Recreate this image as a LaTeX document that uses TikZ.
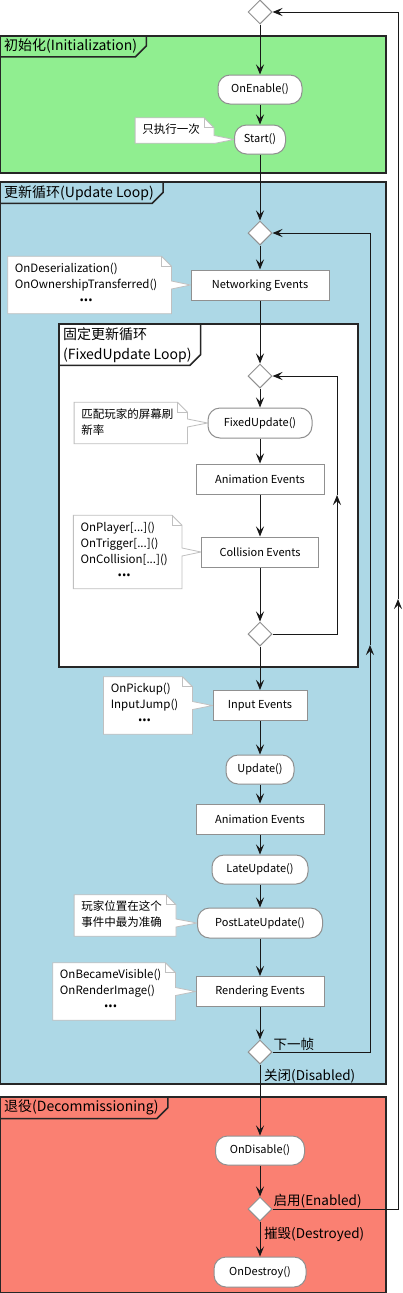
\documentclass[tikz,border=0pt]{standalone}
\usepackage{fontspec}
\setmainfont{Noto Sans CJK SC}
\newfontfamily\dotfont{Noto Sans}
\usepackage{tikz}
\usetikzlibrary{arrows.meta,shapes.geometric,calc,positioning,backgrounds}
\definecolor{colorinit}{HTML}{90EE90}
\definecolor{colorloop}{HTML}{ADD8E6}
\definecolor{colordecom}{HTML}{FA8072}
\definecolor{colorline}{HTML}{181818}
\definecolor{colorbox}{HTML}{909090}
\definecolor{colornote}{HTML}{C0C0C0}
\tikzset{act/.style={draw=colorbox, fill=white, line width=1pt, rounded corners=12pt, minimum height=29pt, inner xsep=0pt, font=\fontsize{11}{13}\selectfont}}
\tikzset{evbox/.style={draw=colorbox, fill=white, line width=1pt, minimum height=30pt, inner xsep=0pt, font=\fontsize{11}{13}\selectfont}}
\tikzset{branch/.style={diamond, draw=colorbox, fill=white, line width=1pt, minimum width=24pt, minimum height=24pt, inner sep=0pt}}
\tikzset{note/.style={inner xsep=0pt, inner ysep=4.5pt, font=\fontsize{11.5}{16}\selectfont}}
\tikzset{noteline/.style={draw=colornote, fill=white, line width=0.8pt}}
\tikzset{region/.style={draw=black!85, line width=1.5pt}}
\tikzset{regiontitle/.style={anchor=north west, inner xsep=4pt, inner ysep=3pt, align=left, font=\fontsize{14}{20}\selectfont}}
\tikzset{guard/.style={inner sep=1pt, font=\fontsize{13.5}{16}\selectfont}}
\tikzset{
  edgeflow/.style={colorline, line width=1pt, -{Stealth[length=10pt,width=8pt,inset=4pt]}},
  edgeline/.style={colorline, line width=1pt}
}
\pgfdeclarelayer{regionlayer}
\pgfdeclarelayer{notelayer}
\pgfsetlayers{regionlayer,notelayer,main}
\newcommand\notetext[1]{\begin{tabular}{@{\hspace{7pt}}l@{\hspace{14pt}}}#1\end{tabular}}
\newcommand\moredots{\multicolumn{1}{@{\hspace{7pt}}c@{\hspace{14pt}}}{\dotfont\bfseries •••}}
\newcommand\notefor[2]{%
  \draw[noteline] (#1.north west) -- ([xshift=-10pt]#1.north east)
    -- ([yshift=-10pt]#1.north east) -- ($(#1.east |- #2.west)+(0,-4)$)
    -- (#2.west) -- ($(#1.east |- #2.west)+(0,4)$)
    -- (#1.south east) -- (#1.south west) -- cycle;
  \draw[noteline, fill=none] ([xshift=-10pt]#1.north east) |- ([yshift=-10pt]#1.north east);
}

\begin{document}
\begin{tikzpicture}[x=1pt, y=-1pt]
\useasboundingbox (0,0) rectangle (403,1293);

% regions
\begin{pgfonlayer}{regionlayer}
\draw[region, fill=colorinit] (0,36) rectangle (386,173);
\node[regiontitle] (tinit) at (0,36) {初始化(Initialization)};
\draw[region] (tinit.south west) -- ([xshift=-6pt]tinit.south east)
  -- ([xshift=5pt,yshift=11pt]tinit.south east) -- ([xshift=5pt]tinit.north east);

\draw[region, fill=colorloop] (0,182) rectangle (386,1084);
\node[regiontitle] (tloop) at (0,182) {更新循环(Update Loop)};
\draw[region] (tloop.south west) -- ([xshift=-6pt]tloop.south east)
  -- ([xshift=5pt,yshift=11pt]tloop.south east) -- ([xshift=5pt]tloop.north east);

\draw[region, fill=white] (59,324) rectangle (358,667);
\node[regiontitle] (tfixed) at (59,324) {固定更新循环\\(FixedUpdate Loop)};
\draw[region] (tfixed.south west) -- ([xshift=-6pt]tfixed.south east)
  -- ([xshift=5pt,yshift=11pt]tfixed.south east) -- ([xshift=5pt]tfixed.north east);

\draw[region, fill=colordecom] (0,1097) rectangle (386,1293);
\node[regiontitle] (tdecom) at (0,1097) {退役(Decommissioning)};
\draw[region] (tdecom.south west) -- ([xshift=-6pt]tdecom.south east)
  -- ([xshift=5pt,yshift=11pt]tdecom.south east) -- ([xshift=5pt]tdecom.north east);
\end{pgfonlayer}

% steps
\node[branch] (dtop) at (260,12) {};
\node[act, minimum width=84pt] (onenable) at (260,89.5) {OnEnable()};
\node[act, minimum width=51pt] (start) at (260,139.5) {Start()};
\node[branch] (dloop) at (260,233) {};
\node[evbox, minimum width=138pt] (netev) at (260,285) {Networking Events};
\node[branch] (dfix) at (260,376) {};
\node[act, minimum width=104pt, minimum height=30pt] (fixedupd) at (260,423) {FixedUpdate()};
\node[evbox, minimum width=128pt] (animfix) at (260,479) {Animation Events};
\node[evbox, minimum width=117pt] (collev) at (260,552) {Collision Events};
\node[branch] (dfixend) at (260,634) {};
\node[evbox, minimum width=94pt] (inputev) at (260,705.5) {Input Events};
\node[act, minimum width=68pt] (update) at (260,769.5) {Update()};
\node[evbox, minimum width=128pt] (animupd) at (260,819) {Animation Events};
\node[act, minimum width=96pt] (lateupd) at (260,869.5) {LateUpdate()};
\node[act, minimum width=125pt, minimum height=30pt] (postlate) at (260,923) {PostLateUpdate()};
\node[evbox, minimum width=128pt] (renderev) at (260,991.5) {Rendering Events};
\node[branch] (dnext) at (260,1052) {};
\node[act, minimum width=89pt] (ondisable) at (260,1150.5) {OnDisable()};
\node[branch] (denable) at (260,1209) {};
\node[act, minimum width=92pt, minimum height=30pt] (ondestroy) at (260,1272) {OnDestroy()};

% notes
\node[note, left=20pt of start, yshift=9pt] (nstart) {\notetext{只执行一次}};
\node[note, left=19pt of netev] (nnet)
{\notetext{OnDeserialization()\\OnOwnershipTransferred()\\\moredots}};
\node[note, left=20pt of fixedupd] (nfixed) {\notetext{匹配玩家的屏幕刷\\新率}};
\node[note, left=19pt of collev] (ncoll)
{\notetext{OnPlayer[...]()\\OnTrigger[...]()\\OnCollision[...]()\\\moredots}};
\node[note, left=20pt of inputev] (ninput) {\notetext{OnPickup()\\InputJump()\\\moredots}};
\node[note, left=21pt of postlate, yshift=7.5pt] (npost) {\notetext{玩家位置在这个\\事件中最为准确}};
\node[note, left=20pt of renderev] (nrender)
{\notetext{OnBecameVisible()\\OnRenderImage()\\\moredots}};

\begin{pgfonlayer}{notelayer}
\notefor{nstart}{start}
\notefor{nnet}{netev}
\notefor{nfixed}{fixedupd}
\notefor{ncoll}{collev}
\notefor{ninput}{inputev}
\notefor{npost}{postlate}
\notefor{nrender}{renderev}
\end{pgfonlayer}

% guards
\node[guard, anchor=south west] (lnext) at (dnext.east) {下一帧};
\node[guard, anchor=north west] (ldisabled) at ([xshift=3pt,yshift=-3pt]dnext.south) {关闭(Disabled)};
\node[guard, anchor=south west] (lenabled) at (denable.east) {启用(Enabled)};
\node[guard, anchor=north west] (ldestroyed) at ([xshift=3pt,yshift=-4pt]denable.south) {摧毁(Destroyed)};

% flow
\draw[edgeflow] (dtop) -- (onenable);
\draw[edgeflow] (onenable) -- (start);
\draw[edgeflow] (start) -- (dloop);
\draw[edgeflow] (dloop) -- (netev);
\draw[edgeflow] (netev) -- (dfix);
\draw[edgeflow] (dfix) -- (fixedupd);
\draw[edgeflow] (fixedupd) -- (animfix);
\draw[edgeflow] (animfix) -- (collev);
\draw[edgeflow] (collev) -- (dfixend);
\draw[edgeflow] (dfixend) -- (inputev);
\draw[edgeflow] (inputev) -- (update);
\draw[edgeflow] (update) -- (animupd);
\draw[edgeflow] (animupd) -- (lateupd);
\draw[edgeflow] (lateupd) -- (postlate);
\draw[edgeflow] (postlate) -- (renderev);
\draw[edgeflow] (renderev) -- (dnext);
\draw[edgeflow] (dnext) -- (ondisable);
\draw[edgeflow] (ondisable) -- (denable);
\draw[edgeflow] (denable) -- (ondestroy);

% loops back
\coordinate (upfix) at (337,495);
\coordinate (upframe) at (370,645);
\coordinate (upenable) at (398,599);
\draw[edgeflow] (dfixend.east) -| (upfix);
\draw[edgeflow] (upfix) |- (dfix.east);
\draw[edgeflow] (dnext.east) -| (upframe);
\draw[edgeflow] (upframe) |- (dloop.east);
\draw[edgeflow] (denable.east) -| (upenable);
\draw[edgeflow] (upenable) |- (dtop.east);
\end{tikzpicture}
\end{document}
